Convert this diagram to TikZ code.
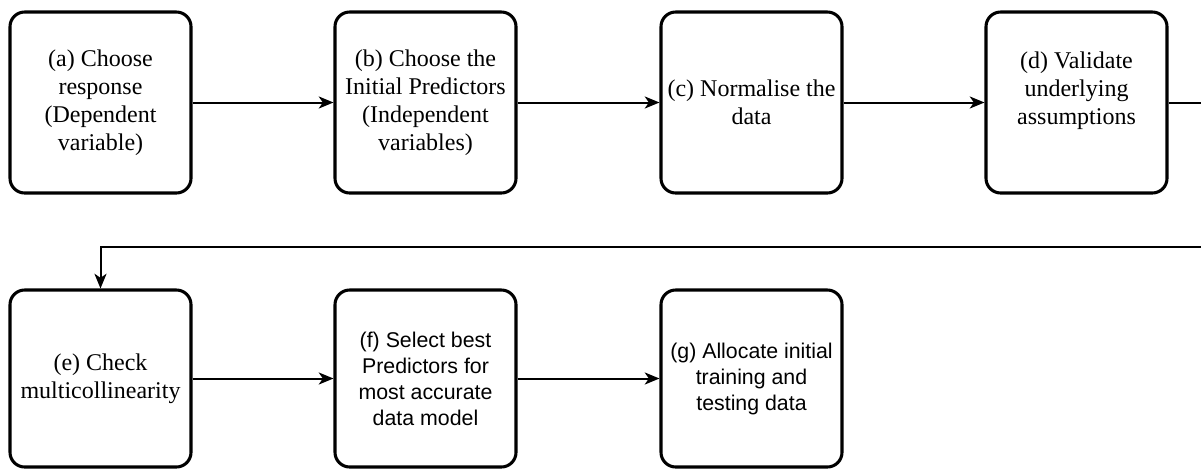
\documentclass[tikz,border=0pt]{standalone}
\usepackage{fontspec}
\setmainfont{Liberation Serif}
\newfontfamily\arialfont{Liberation Sans}
\usetikzlibrary{arrows.meta}
\begin{document}
\begin{tikzpicture}[x=0.75pt,y=-0.75pt,
  stepbox/.style={draw,line width=2.3pt,rounded corners=11pt,align=center,
    minimum width=135.75pt,inner sep=1pt,font=\fontsize{18}{21}\selectfont},
  toprow/.style={minimum height=135.75pt},
  botrow/.style={minimum height=132.75pt},
  sansbox/.style={font=\arialfont\fontsize{16}{19.5}\selectfont},
  flow/.style={line width=1.5pt,-{Stealth[length=11pt,width=9pt,inset=3pt]}}]
\useasboundingbox (0,0) rectangle (1201,468);
\fill[white] (0,0) rectangle (1201,468);

\node[stepbox,toprow] (a) at (100.5,102.5) {(a) Choose\\response\\(Dependent\\variable)};
\node[stepbox,toprow] (b) at (425.5,102.5) {(b) Choose the\\Initial Predictors\\(Independent\\variables)};
\node[stepbox,toprow] (c) at (751.5,102.5) {(c) Normalise the\\data};
\node[stepbox,toprow] (d) at (1076.5,102.5) {(d) Validate\\underlying\\assumptions\\\mbox{}};

\node[stepbox,botrow] (e) at (100.5,378.5) {(e) Check\\multicollinearity};
\node[stepbox,botrow,sansbox] (f) at (425.5,378.5) {(f) Select best\\Predictors for\\most accurate\\data model};
\node[stepbox,botrow,sansbox] (g) at (751.5,378.5) {(g) Allocate initial\\training and\\testing data};

\coordinate (turn) at (1205,247);

\draw[flow] (a) -- (b);
\draw[flow] (b) -- (c);
\draw[flow] (c) -- (d);
\draw[flow] (d.east) -| (turn) -| (e.north);
\draw[flow] (e) -- (f);
\draw[flow] (f) -- (g);
\end{tikzpicture}
\end{document}
